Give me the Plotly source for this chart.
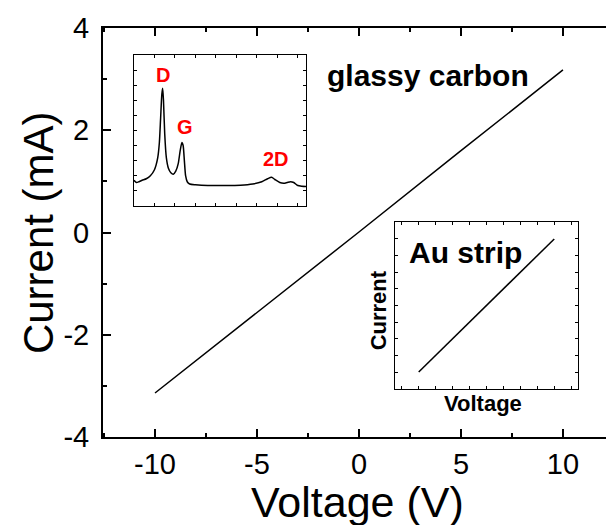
import plotly.graph_objects as go

# I-V sweep of the glassy carbon electrode
voltage = [-10, -5, 0, 5, 10]
current = [-3.14, -1.57, 0.01, 1.60, 3.18]

# Axis tick values and their printed labels
x_ticks = [-10, -5, 0, 5, 10]
x_tick_text = ["-10", "-5", "0", "5", "10"]
y_ticks = [-4, -2, 0, 2, 4]
y_tick_text = ["-4", "-2", "0", "2", "4"]

# Raman spectrum of the glassy carbon (shift in cm^-1, normalised intensity)
raman_shift = [1000, 1030, 1060, 1100, 1150, 1200, 1250, 1290, 1310, 1325,
               1340, 1350, 1360, 1375, 1395, 1420, 1450, 1480, 1510, 1540,
               1565, 1585, 1600, 1615, 1630, 1650, 1680, 1750, 1900, 2100,
               2300, 2450, 2560, 2630, 2680, 2720, 2780, 2830, 2870, 2910,
               2950, 3000, 3050, 3100]
raman_int = [0.17, 0.155, 0.16, 0.17, 0.18, 0.20, 0.24, 0.32, 0.42, 0.58,
             0.74, 0.78, 0.70, 0.48, 0.32, 0.25, 0.22, 0.21, 0.23, 0.28,
             0.37, 0.42, 0.40, 0.30, 0.20, 0.16, 0.145, 0.14, 0.135, 0.135,
             0.137, 0.145, 0.16, 0.18, 0.19, 0.175, 0.155, 0.15, 0.155, 0.16,
             0.155, 0.135, 0.13, 0.128]
peak_labels = ["D", "G", "2D"]
peak_label_x = [1350, 1622, 2732]
peak_label_y = [0.868, 0.523, 0.311]

# I-V sweep of the Au strip (arbitrary units)
au_voltage = [-1, -0.5, 0, 0.5, 1]
au_current = [-1, -0.5, 0, 0.5, 1]

FONT = "Liberation Sans, Arial, sans-serif"

fig = go.Figure()
fig.add_trace(go.Scatter(x=voltage, y=current, mode="lines",
                         line=dict(color="black", width=1.5),
                         xaxis="x", yaxis="y", showlegend=False))
fig.add_trace(go.Scatter(x=raman_shift, y=raman_int, mode="lines",
                         line=dict(color="black", width=1.5, shape="spline", smoothing=0.6),
                         xaxis="x2", yaxis="y2", showlegend=False))
fig.add_trace(go.Scatter(x=au_voltage, y=au_current, mode="lines",
                         line=dict(color="black", width=1.5),
                         xaxis="x3", yaxis="y3", showlegend=False))

inset_axis = dict(showline=True, linecolor="black", linewidth=1, mirror="ticks",
                  ticks="inside", ticklen=3, tickcolor="black", tickwidth=1,
                  showticklabels=False, showgrid=False, zeroline=False)

fig.update_layout(
    width=606, height=525,
    margin=dict(l=103, r=0, t=28, b=88),
    plot_bgcolor="white", paper_bgcolor="white",
    font=dict(family=FONT, color="black"),
    xaxis=dict(domain=[0, 1], range=[-12.55, 12.11],
               tickmode="array", tickvals=x_ticks, ticktext=x_tick_text,
               ticks="inside", ticklen=8, tickwidth=1.5, tickcolor="black",
               minor=dict(dtick=2.5, tick0=0, ticks="inside", ticklen=4,
                          tickwidth=1.5, tickcolor="black"),
               showline=True, linecolor="black", linewidth=2, mirror="ticks",
               showgrid=False, zeroline=False,
               tickfont=dict(size=29, family=FONT), ticklabelstandoff=0),
    yaxis=dict(domain=[0, 1], range=[-4, 4],
               tickmode="array", tickvals=y_ticks, ticktext=y_tick_text,
               ticks="inside", ticklen=8, tickwidth=1.5, tickcolor="black",
               minor=dict(dtick=1, tick0=0, ticks="inside", ticklen=4,
                          tickwidth=1.5, tickcolor="black"),
               showline=True, linecolor="black", linewidth=2,
               showgrid=False, zeroline=False,
               tickfont=dict(size=29, family=FONT), ticklabelstandoff=6),
    xaxis2=dict(inset_axis, domain=[0.0616, 0.4036], range=[1000, 3100],
                anchor="y2", dtick=250, tick0=1000),
    yaxis2=dict(inset_axis, domain=[0.565, 0.934], range=[0, 1],
                anchor="x2", dtick=0.1, tick0=0),
    xaxis3=dict(inset_axis, domain=[0.5805, 0.9443], range=[-1.35, 1.35],
                anchor="y3", dtick=0.25, tick0=0),
    yaxis3=dict(inset_axis, domain=[0.1174, 0.5257], range=[-1.255, 1.255],
                anchor="x3", dtick=0.25, tick0=0),
)

annotations = [
    dict(text="Voltage (V)", xref="paper", yref="paper", x=0.505, y=-0.16,
         xanchor="center", yanchor="middle", showarrow=False,
         font=dict(size=43, family=FONT)),
    dict(text="Current (mA)", xref="paper", yref="paper", x=-0.128, y=0.5,
         xanchor="center", yanchor="middle", textangle=-90, showarrow=False,
         font=dict(size=42, family=FONT)),
    dict(text="<b>glassy carbon</b>", xref="x", yref="y", x=3.38, y=3.08,
         xanchor="center", yanchor="middle", showarrow=False,
         font=dict(size=30, family=FONT)),
    dict(text="<b>Au strip</b>", xref="paper", yref="paper", x=0.72, y=0.45,
         xanchor="center", yanchor="middle", showarrow=False,
         font=dict(size=30, family=FONT)),
    dict(text="<b>Current</b>", xref="paper", yref="paper", x=0.547, y=0.31,
         xanchor="center", yanchor="middle", textangle=-90, showarrow=False,
         font=dict(size=22, family=FONT)),
    dict(text="<b>Voltage</b>", xref="paper", yref="paper", x=0.755, y=0.083,
         xanchor="center", yanchor="middle", showarrow=False,
         font=dict(size=22, family=FONT)),
]
for lab, lx, ly in zip(peak_labels, peak_label_x, peak_label_y):
    annotations.append(dict(text=f"<b>{lab}</b>", xref="x2", yref="y2", x=lx, y=ly,
                            xanchor="center", yanchor="middle", showarrow=False,
                            font=dict(size=20, family=FONT, color="red")))
fig.update_layout(annotations=annotations)

fig.write_html("out.html")
